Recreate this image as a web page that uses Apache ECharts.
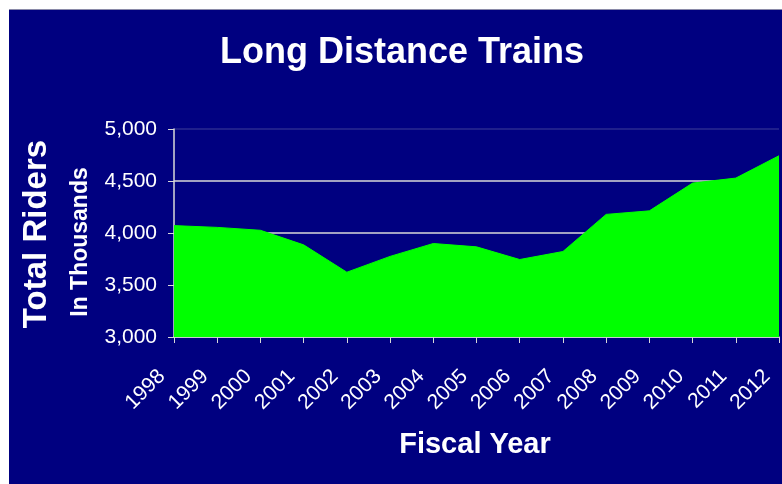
<!DOCTYPE html>
<html>
<head>
    <meta charset="utf-8">
    <script src="https://cdn.jsdelivr.net/npm/echarts@6/dist/echarts.min.js"></script>
    <style>
        html, body {
            margin: 0;
            padding: 0;
            background: #ffffff;
        }
        #chart {
            position: absolute;
            left: 9px;
            top: 9px;
            width: 773px;
            height: 475px;
            border-top: 1px solid #8a8aa8;
            box-sizing: border-box;
        }
    </style>
</head>
<body>
    <div id="chart"></div>

    <script>
        // fiscal years and riders (thousands)
        var years = ['1998', '1999', '2000', '2001', '2002', '2003', '2004', '2005',
            '2006', '2007', '2008', '2009', '2010', '2011', '2012'];
        var riders = [4071, 4054, 4026, 3886, 3623, 3775, 3899, 3867,
            3745, 3822, 4179, 4213, 4480, 4528, 4743];
        var yTicks = [3000, 3500, 4000, 4500, 5000];

        var font = '"Liberation Sans", Arial, sans-serif';
        var myChart = echarts.init(document.getElementById('chart'));

        var option = {
            backgroundColor: '#000080',
            animation: false,
            title: {
                text: 'Long Distance Trains',
                left: 388,
                top: 20,
                textAlign: 'center',
                textStyle: {
                    color: '#ffffff',
                    fontFamily: font,
                    fontWeight: 'bold',
                    fontSize: 36
                }
            },
            grid: {
                left: 165,
                right: 3,
                top: 119,
                bottom: 147,
                outerBoundsMode: 'none'
            },
            xAxis: {
                type: 'category',
                boundaryGap: false,
                data: years,
                axisLine: { lineStyle: { color: '#d8d8d8', width: 1.5 } },
                axisTick: { show: true, length: 6, lineStyle: { color: '#d8d8d8' } },
                axisLabel: {
                    rotate: 45,
                    margin: 24,
                    padding: [0, 17, 0, 0],
                    color: '#ffffff',
                    fontFamily: font,
                    fontSize: 21,
                    interval: 0
                },
                splitLine: { show: false }
            },
            yAxis: {
                type: 'value',
                min: yTicks[0],
                max: yTicks[yTicks.length - 1],
                interval: 500,
                axisLine: { show: true, lineStyle: { color: '#d8d8d8', width: 1.5 } },
                axisTick: { show: true, length: 6, lineStyle: { color: '#d8d8d8' } },
                axisLabel: {
                    margin: 17,
                    color: '#ffffff',
                    fontFamily: font,
                    fontSize: 21,
                    formatter: function(v) {
                        return v.toLocaleString('en-US');
                    }
                },
                splitLine: {
                    show: true,
                    lineStyle: {
                        color: ['#d8d8d8', '#d8d8d8', '#d8d8d8', '#d8d8d8', '#2a2a90'],
                        width: 1.5
                    }
                }
            },
            graphic: [{
                type: 'text',
                x: 28,
                y: 224,
                rotation: Math.PI / 2,
                style: {
                    text: 'Total Riders',
                    fill: '#ffffff',
                    font: 'bold 33px ' + font,
                    textAlign: 'center',
                    textVerticalAlign: 'middle'
                }
            }, {
                type: 'text',
                x: 72,
                y: 232,
                rotation: Math.PI / 2,
                style: {
                    text: 'In Thousands',
                    fill: '#ffffff',
                    font: 'bold 23px ' + font,
                    textAlign: 'center',
                    textVerticalAlign: 'middle'
                }
            }, {
                type: 'text',
                x: 466,
                y: 435,
                style: {
                    text: 'Fiscal Year',
                    fill: '#ffffff',
                    font: 'bold 29px ' + font,
                    textAlign: 'center',
                    textVerticalAlign: 'middle'
                }
            }],
            series: [{
                name: 'Total Riders',
                type: 'line',
                data: riders,
                showSymbol: false,
                lineStyle: { color: '#00ff00', width: 1 },
                areaStyle: { color: '#00ff00', opacity: 1 }
            }]
        };

        myChart.setOption(option);
    </script>
</body>
</html>
